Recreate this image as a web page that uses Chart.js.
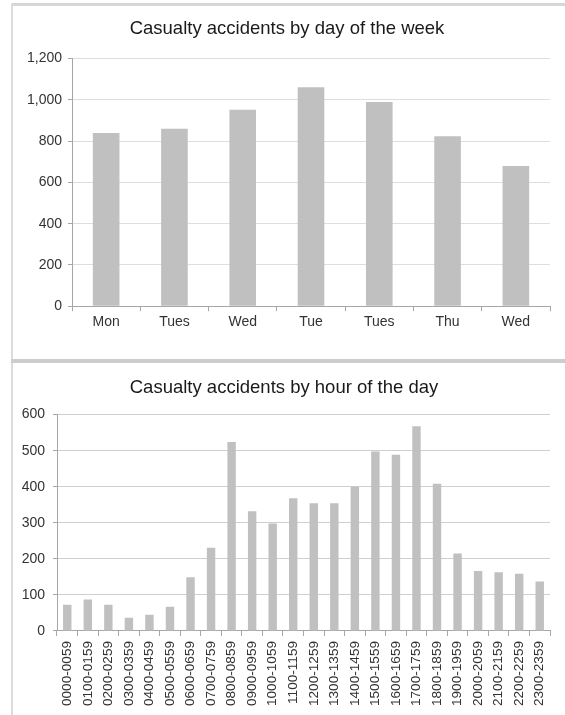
<!DOCTYPE html>
<html>
<head>
<meta charset="utf-8">
<script src="https://cdn.jsdelivr.net/npm/chart.js@4.4.1/dist/chart.umd.min.js"></script>
<style>
  html, body { margin: 0; padding: 0; background: #fff; width: 565px; height: 715px; overflow: hidden; }
  .rule { position: absolute; }
  .box { position: absolute; }
</style>
</head>
<body>
<!-- panel frame lines -->
<div class="rule" style="left:11px;top:3px;width:554px;height:3px;background:#d6d6d6"></div>
<div class="rule" style="left:11px;top:3px;width:2px;height:712px;background:#dcdcdc"></div>
<div class="rule" style="left:11px;top:359px;width:554px;height:4px;background:#cdcdcd"></div>

<div class="box" style="left:0;top:0;width:565px;height:358px"><canvas id="dayChart"></canvas></div>
<div class="box" style="left:0;top:362px;width:565px;height:353px"><canvas id="hourChart"></canvas></div>

<script>
// Casualty accidents by day of the week
const dayLabels = ['Mon', 'Tues', 'Wed', 'Tue', 'Tues', 'Thu', 'Wed'];
const dayCounts = [840, 860, 952, 1061, 990, 824, 679];
const dayTicks = [0, 200, 400, 600, 800, 1000, 1200];

// Casualty accidents by hour of the day
const hourLabels = [
  '0000-0059', '0100-0159', '0200-0259', '0300-0359', '0400-0459', '0500-0559',
  '0600-0659', '0700-0759', '0800-0859', '0900-0959', '1000-1059', '1100-1159',
  '1200-1259', '1300-1359', '1400-1459', '1500-1559', '1600-1659', '1700-1759',
  '1800-1859', '1900-1959', '2000-2059', '2100-2159', '2200-2259', '2300-2359'
];
const hourCounts = [73, 87, 73, 37, 45, 67, 149, 231, 524, 332, 298, 368,
                    354, 354, 400, 498, 489, 568, 408, 215, 166, 163, 159, 137];
const hourTicks = [0, 100, 200, 300, 400, 500, 600];

const FONT = 'Liberation Sans, Arial, Helvetica, sans-serif';
const BAR = '#c0c0c0';
const AXIS = '#a6a6a6';
const TEXT = '#333333';

function barChart(id, opts) {
  return new Chart(document.getElementById(id), {
    type: 'bar',
    data: {
      labels: opts.labels,
      datasets: [{
        data: opts.values,
        backgroundColor: BAR,
        borderWidth: 0,
        categoryPercentage: 1,
        barPercentage: opts.barPct
      }]
    },
    options: {
      responsive: true,
      maintainAspectRatio: false,
      animation: false,
      layout: { padding: opts.padding },
      plugins: {
        legend: { display: false },
        tooltip: { enabled: false },
        title: {
          display: true,
          text: opts.title,
          color: '#1a1a1a',
          font: { family: FONT, size: 18.5, weight: 'normal' },
          padding: opts.titlePad
        }
      },
      scales: {
        x: {
          offset: true,
          grid: { offset: true, drawOnChartArea: false, color: AXIS, tickLength: 5 },
          border: { color: AXIS },
          ticks: {
            color: TEXT,
            font: { family: FONT, size: opts.xFont },
            padding: opts.xPad,
            autoSkip: false,
            minRotation: opts.rot,
            maxRotation: opts.rot
          }
        },
        y: {
          min: opts.yTicks[0],
          max: opts.yTicks[opts.yTicks.length - 1],
          afterBuildTicks: (axis) => { axis.ticks = opts.yTicks.map(v => ({ value: v })); },
          afterFit: (axis) => { axis.width = opts.yWidth; },
          grid: { color: opts.gridColor, tickColor: AXIS, tickLength: 4 },
          border: { color: AXIS },
          ticks: {
            color: TEXT,
            font: { family: FONT, size: 14 },
            padding: opts.yPad,
            callback: (v) => Number(v).toLocaleString('en-US')
          }
        }
      }
    }
  });
}

barChart('dayChart', {
  labels: dayLabels,
  values: dayCounts,
  yTicks: dayTicks,
  title: 'Casualty accidents by day of the week',
  barPct: 0.39,
  padding: { left: 24, right: 15, top: 0, bottom: 24 },
  titlePad: { top: 18, bottom: 18.4 },
  xFont: 14, xPad: 3, rot: 0,
  yWidth: 48, yPad: 6,
  gridColor: '#dedede'
});

barChart('hourChart', {
  labels: hourLabels,
  values: hourCounts,
  yTicks: hourTicks,
  title: 'Casualty accidents by hour of the day',
  barPct: 0.41,
  padding: { left: 18, right: 15, top: 0, bottom: 4 },
  titlePad: { top: 15, bottom: 15.4 },
  xFont: 13.6, xPad: 5, rot: 90,
  yWidth: 39, yPad: 8,
  gridColor: '#cfcfcf'
});
</script>
</body>
</html>
